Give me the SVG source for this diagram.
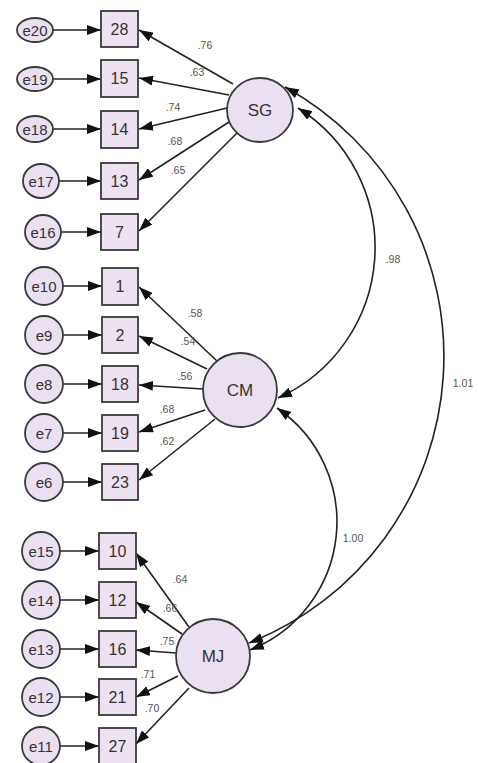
<svg xmlns="http://www.w3.org/2000/svg" width="478" height="763" viewBox="0 0 478 763">
<style>
.bg{fill:#fff}
.box{fill:#ede1f2;stroke:#3a3a3a;stroke-width:1.8}
.lat{fill:#ebdff2;stroke:#3a3a3a;stroke-width:1.8}
.err{fill:#ebdff2;stroke:#3a3a3a;stroke-width:1.8}
.ln{fill:none;stroke:#222;stroke-width:1.6}
.t{font-family:"Liberation Sans",Arial,sans-serif;fill:#333;text-anchor:middle;dominant-baseline:central}
.bt{font-size:16px}
.et{font-size:15px}
.lt{font-size:17px}
.w{font-family:"Liberation Sans",Arial,sans-serif;fill:#555;font-size:10.5px;text-anchor:middle;dominant-baseline:central}
</style>
<defs>
<marker id="ah" markerUnits="userSpaceOnUse" markerWidth="16" markerHeight="10" refX="14" refY="5" orient="auto-start-reverse">
<path d="M0,0 L14,5 L0,10 z" fill="#111"/>
</marker>
</defs>
<rect class="bg" x="0" y="0" width="478" height="763"/>
<g id="connectors">
<line class="ln" x1="53" y1="30" x2="101" y2="30" marker-end="url(#ah)"/>
<line class="ln" x1="53" y1="79" x2="101" y2="79" marker-end="url(#ah)"/>
<line class="ln" x1="53" y1="129" x2="101" y2="129" marker-end="url(#ah)"/>
<line class="ln" x1="59" y1="181" x2="101" y2="181" marker-end="url(#ah)"/>
<line class="ln" x1="61" y1="232" x2="101" y2="232" marker-end="url(#ah)"/>
<line class="ln" x1="63" y1="286" x2="102" y2="286" marker-end="url(#ah)"/>
<line class="ln" x1="63" y1="335" x2="102" y2="335" marker-end="url(#ah)"/>
<line class="ln" x1="63" y1="384" x2="102" y2="384" marker-end="url(#ah)"/>
<line class="ln" x1="63" y1="433" x2="102" y2="433" marker-end="url(#ah)"/>
<line class="ln" x1="63" y1="482" x2="102" y2="482" marker-end="url(#ah)"/>
<line class="ln" x1="60" y1="551" x2="99" y2="551" marker-end="url(#ah)"/>
<line class="ln" x1="60" y1="600" x2="99" y2="600" marker-end="url(#ah)"/>
<line class="ln" x1="60" y1="649" x2="99" y2="649" marker-end="url(#ah)"/>
<line class="ln" x1="60" y1="697" x2="99" y2="697" marker-end="url(#ah)"/>
<line class="ln" x1="60" y1="746" x2="99" y2="746" marker-end="url(#ah)"/>
<line class="ln" x1="233" y1="84" x2="139" y2="30" marker-end="url(#ah)"/>
<line class="ln" x1="229" y1="95" x2="139" y2="78" marker-end="url(#ah)"/>
<line class="ln" x1="227" y1="108" x2="139" y2="129" marker-end="url(#ah)"/>
<line class="ln" x1="229" y1="122" x2="139" y2="180" marker-end="url(#ah)"/>
<line class="ln" x1="237" y1="133" x2="139" y2="231" marker-end="url(#ah)"/>
<line class="ln" x1="217" y1="361" x2="139" y2="287" marker-end="url(#ah)"/>
<line class="ln" x1="207" y1="369" x2="139" y2="336" marker-end="url(#ah)"/>
<line class="ln" x1="203" y1="389" x2="139" y2="385" marker-end="url(#ah)"/>
<line class="ln" x1="205" y1="410" x2="139" y2="432" marker-end="url(#ah)"/>
<line class="ln" x1="215" y1="419" x2="139" y2="480" marker-end="url(#ah)"/>
<line class="ln" x1="189" y1="627" x2="136" y2="553" marker-end="url(#ah)"/>
<line class="ln" x1="182" y1="634" x2="136" y2="602" marker-end="url(#ah)"/>
<line class="ln" x1="176" y1="653" x2="136" y2="650" marker-end="url(#ah)"/>
<line class="ln" x1="178" y1="676" x2="136" y2="697" marker-end="url(#ah)"/>
<line class="ln" x1="189" y1="688" x2="136" y2="744" marker-end="url(#ah)"/>
<path class="ln" d="M285,87 A308,308 0 0 1 249,643" marker-start="url(#ah)" marker-end="url(#ah)"/>
<path class="ln" d="M298,108 A165,165 0 0 1 278,398" marker-start="url(#ah)" marker-end="url(#ah)"/>
<path class="ln" d="M277,408 A138,138 0 0 1 250,650" marker-start="url(#ah)" marker-end="url(#ah)"/>
<text class="w" x="205" y="45">.76</text>
<text class="w" x="197" y="72">.63</text>
<text class="w" x="173" y="107">.74</text>
<text class="w" x="175" y="141">.68</text>
<text class="w" x="178" y="170">.65</text>
<text class="w" x="195" y="313">.58</text>
<text class="w" x="188" y="341">.54</text>
<text class="w" x="185" y="376">.56</text>
<text class="w" x="167" y="409">.68</text>
<text class="w" x="167" y="441">.62</text>
<text class="w" x="180" y="579">.64</text>
<text class="w" x="170" y="608">.66</text>
<text class="w" x="167" y="641">.75</text>
<text class="w" x="148" y="674">.71</text>
<text class="w" x="152" y="708">.70</text>
<text class="w" x="393" y="259">.98</text>
<text class="w" x="463" y="383">1.01</text>
<text class="w" x="353" y="538">1.00</text>
</g>
<g id="SG"><ellipse class="lat" cx="260" cy="110" rx="33" ry="32"/><text class="t lt" x="260" y="110">SG</text></g>
<g id="CM"><circle class="lat" cx="240" cy="390" r="37"/><text class="t lt" x="240" y="390">CM</text></g>
<g id="MJ"><circle class="lat" cx="213" cy="656" r="37"/><text class="t lt" x="213" y="656">MJ</text></g>
<g id="v28"><rect class="box" x="101" y="11" width="37" height="36"/><text class="t bt" x="119.5" y="29">28</text></g>
<g id="v15"><rect class="box" x="101" y="60" width="37" height="37"/><text class="t bt" x="119.5" y="78.5">15</text></g>
<g id="v14"><rect class="box" x="101" y="111" width="37" height="37"/><text class="t bt" x="119.5" y="129.5">14</text></g>
<g id="v13"><rect class="box" x="101" y="163" width="37" height="36"/><text class="t bt" x="119.5" y="181">13</text></g>
<g id="v7"><rect class="box" x="101" y="214" width="37" height="36"/><text class="t bt" x="119.5" y="232">7</text></g>
<g id="v1"><rect class="box" x="102" y="268" width="36" height="37"/><text class="t bt" x="120" y="286.5">1</text></g>
<g id="v2"><rect class="box" x="102" y="317" width="36" height="36"/><text class="t bt" x="120" y="335">2</text></g>
<g id="v18"><rect class="box" x="102" y="366" width="36" height="36"/><text class="t bt" x="120" y="384">18</text></g>
<g id="v19"><rect class="box" x="102" y="415" width="36" height="36"/><text class="t bt" x="120" y="433">19</text></g>
<g id="v23"><rect class="box" x="102" y="464" width="36" height="36"/><text class="t bt" x="120" y="482">23</text></g>
<g id="v10"><rect class="box" x="99" y="533" width="37" height="36"/><text class="t bt" x="117.5" y="551">10</text></g>
<g id="v12"><rect class="box" x="99" y="582" width="37" height="36"/><text class="t bt" x="117.5" y="600">12</text></g>
<g id="v16"><rect class="box" x="99" y="631" width="37" height="36"/><text class="t bt" x="117.5" y="649">16</text></g>
<g id="v21"><rect class="box" x="99" y="679" width="37" height="36"/><text class="t bt" x="117.5" y="697">21</text></g>
<g id="v27"><rect class="box" x="99" y="728" width="37" height="36"/><text class="t bt" x="117.5" y="746">27</text></g>
<g id="e20"><ellipse class="err" cx="35" cy="30" rx="18" ry="12"/><text class="t et" x="35" y="30">e20</text></g>
<g id="e19"><ellipse class="err" cx="35" cy="79" rx="18" ry="12"/><text class="t et" x="35" y="79">e19</text></g>
<g id="e18"><ellipse class="err" cx="35" cy="129" rx="18" ry="13"/><text class="t et" x="35" y="129">e18</text></g>
<g id="e17"><ellipse class="err" cx="41" cy="181" rx="18" ry="17"/><text class="t et" x="41" y="181">e17</text></g>
<g id="e16"><ellipse class="err" cx="43" cy="232" rx="18" ry="17"/><text class="t et" x="43" y="232">e16</text></g>
<g id="e10"><circle class="err" cx="44" cy="286" r="19"/><text class="t et" x="44" y="286">e10</text></g>
<g id="e9"><circle class="err" cx="44" cy="335" r="19"/><text class="t et" x="44" y="335">e9</text></g>
<g id="e8"><circle class="err" cx="44" cy="384" r="19"/><text class="t et" x="44" y="384">e8</text></g>
<g id="e7"><circle class="err" cx="44" cy="433" r="19"/><text class="t et" x="44" y="433">e7</text></g>
<g id="e6"><circle class="err" cx="44" cy="482" r="19"/><text class="t et" x="44" y="482">e6</text></g>
<g id="e15"><circle class="err" cx="41" cy="551" r="19"/><text class="t et" x="41" y="551">e15</text></g>
<g id="e14"><circle class="err" cx="41" cy="600" r="19"/><text class="t et" x="41" y="600">e14</text></g>
<g id="e13"><circle class="err" cx="41" cy="649" r="19"/><text class="t et" x="41" y="649">e13</text></g>
<g id="e12"><circle class="err" cx="41" cy="697" r="19"/><text class="t et" x="41" y="697">e12</text></g>
<g id="e11"><circle class="err" cx="41" cy="746" r="19"/><text class="t et" x="41" y="746">e11</text></g>
</svg>
